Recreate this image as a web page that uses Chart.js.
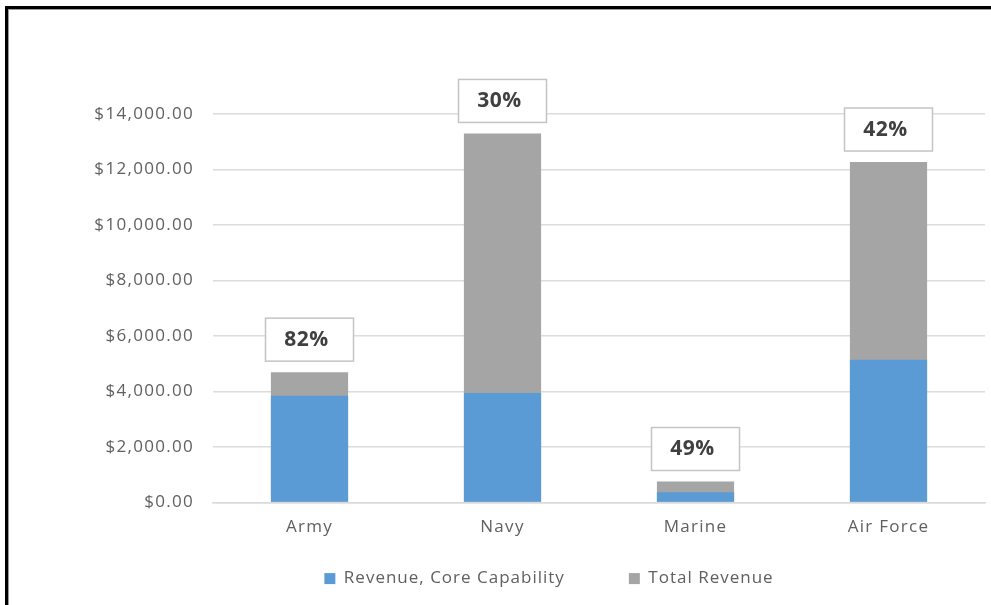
<!DOCTYPE html>
<html lang="en">
<head>
  <meta charset="UTF-8" />
  <title>Revenue by Branch</title>
  <script src="https://cdn.jsdelivr.net/npm/chart.js"></script>
  <style>
    html, body { margin: 0; padding: 0; background: #fff; overflow: hidden; }
    .wrap { position: relative; width: 991px; height: 605px; }
    .wrap canvas { position: absolute; left: 0; top: 0; }
    .frame { position: absolute; left: 5px; top: 6px; width: 2000px; height: 2000px;
             border-top: 3px solid #000; border-left: 3px solid #000;
             box-shadow: inset 1px 1px 0 #9a9a9a; pointer-events: none; }
  </style>
</head>
<body>
  <div class="wrap">
    <canvas id="revenueChart" width="991" height="605"></canvas>
    <div class="frame"></div>
  </div>

  <script>
    const branches = ["Army", "Navy", "Marine", "Air Force"];
    const coreRevenue = [3850, 3950, 372, 5150];
    const totalRevenue = [4700, 13300, 760, 12270];
    const yTicks = [0, 2000, 4000, 6000, 8000, 10000, 12000, 14000];

    const textGray = "#606060";
    const baseFont = "'Open Sans', 'Noto Sans', sans-serif";

    function money(v) {
      return "$" + v.toLocaleString("en-US", { minimumFractionDigits: 2, maximumFractionDigits: 2 });
    }

    // slightly looser tracking for axis text
    const tracking = {
      id: "tracking",
      beforeDraw(chart) { chart.ctx.letterSpacing = "1.3px"; }
    };

    // boxed share-of-total label above each total bar
    const shareLabels = {
      id: "shareLabels",
      afterDatasetsDraw(chart) {
        const ctx = chart.ctx;
        const meta = chart.getDatasetMeta(1);
        ctx.save();
        ctx.letterSpacing = "0.5px";
        meta.data.forEach((bar, i) => {
          const pct = Math.round(coreRevenue[i] / totalRevenue[i] * 100) + "%";
          const w = 88, h = 43;
          const bx = bar.x - w / 2;
          const by = bar.y - 11 - h;
          ctx.fillStyle = "#fff";
          ctx.fillRect(bx, by, w, h);
          ctx.strokeStyle = "#c4c4c4";
          ctx.lineWidth = 1.5;
          ctx.strokeRect(bx, by, w, h);
          ctx.fillStyle = "#404040";
          ctx.font = "bold 21px " + baseFont;
          ctx.textAlign = "center";
          ctx.textBaseline = "middle";
          ctx.fillText(pct, bar.x - 3, by + h / 2);
        });
        ctx.restore();
      }
    };

    // legend row under the axis, items spaced wide apart
    const wideLegend = {
      id: "wideLegend",
      afterDraw(chart) {
        const ctx = chart.ctx;
        const sets = chart.data.datasets;
        const box = 11, gap = 8.5, spacing = 64;
        ctx.save();
        ctx.letterSpacing = "1px";
        ctx.font = "17px " + baseFont;
        const widths = sets.map(ds => box + gap + ctx.measureText(ds.label).width);
        const total = widths.reduce((a, b) => a + b, 0) + spacing * (sets.length - 1);
        const cy = chart.chartArea.bottom + 76;
        let x = 549 - total / 2;
        sets.forEach((ds, i) => {
          ctx.fillStyle = ds.backgroundColor;
          ctx.fillRect(x, cy - box / 2, box, box);
          ctx.fillStyle = textGray;
          ctx.textAlign = "left";
          ctx.textBaseline = "middle";
          ctx.fillText(ds.label, x + box + gap, cy);
          x += widths[i] + spacing;
        });
        ctx.restore();
      }
    };

    new Chart(document.getElementById("revenueChart"), {
      type: "bar",
      data: {
        labels: branches,
        datasets: [
          {
            label: "Revenue, Core Capability",
            data: coreRevenue,
            backgroundColor: "#5b9bd5",
            order: 0
          },
          {
            label: "Total Revenue",
            data: totalRevenue,
            backgroundColor: "#a5a5a5",
            order: 1
          }
        ]
      },
      options: {
        responsive: false,
        animation: false,
        layout: { padding: { left: 88, right: 6, top: 114, bottom: 62 } },
        datasets: { bar: { categoryPercentage: 1, barPercentage: 0.4, grouped: false } },
        plugins: {
          tooltip: { enabled: false },
          legend: { display: false }
        },
        scales: {
          x: {
            grid: { display: false },
            border: { color: "#d9d9d9", width: 1.5 },
            ticks: { color: textGray, font: { family: baseFont, size: 17 }, padding: 6 }
          },
          y: {
            min: 0,
            max: 14000,
            afterBuildTicks(scale) { scale.ticks = yTicks.map(v => ({ value: v })); },
            grid: { color: "#dcdcdc", lineWidth: 1.5, drawTicks: false },
            border: { display: false },
            ticks: {
              color: textGray,
              font: { family: baseFont, size: 17 },
              padding: 19,
              callback: v => money(v)
            },
            afterFit(scale) { scale.width = 125; }
          }
        }
      },
      plugins: [tracking, shareLabels, wideLegend]
    });
  </script>
</body>
</html>
